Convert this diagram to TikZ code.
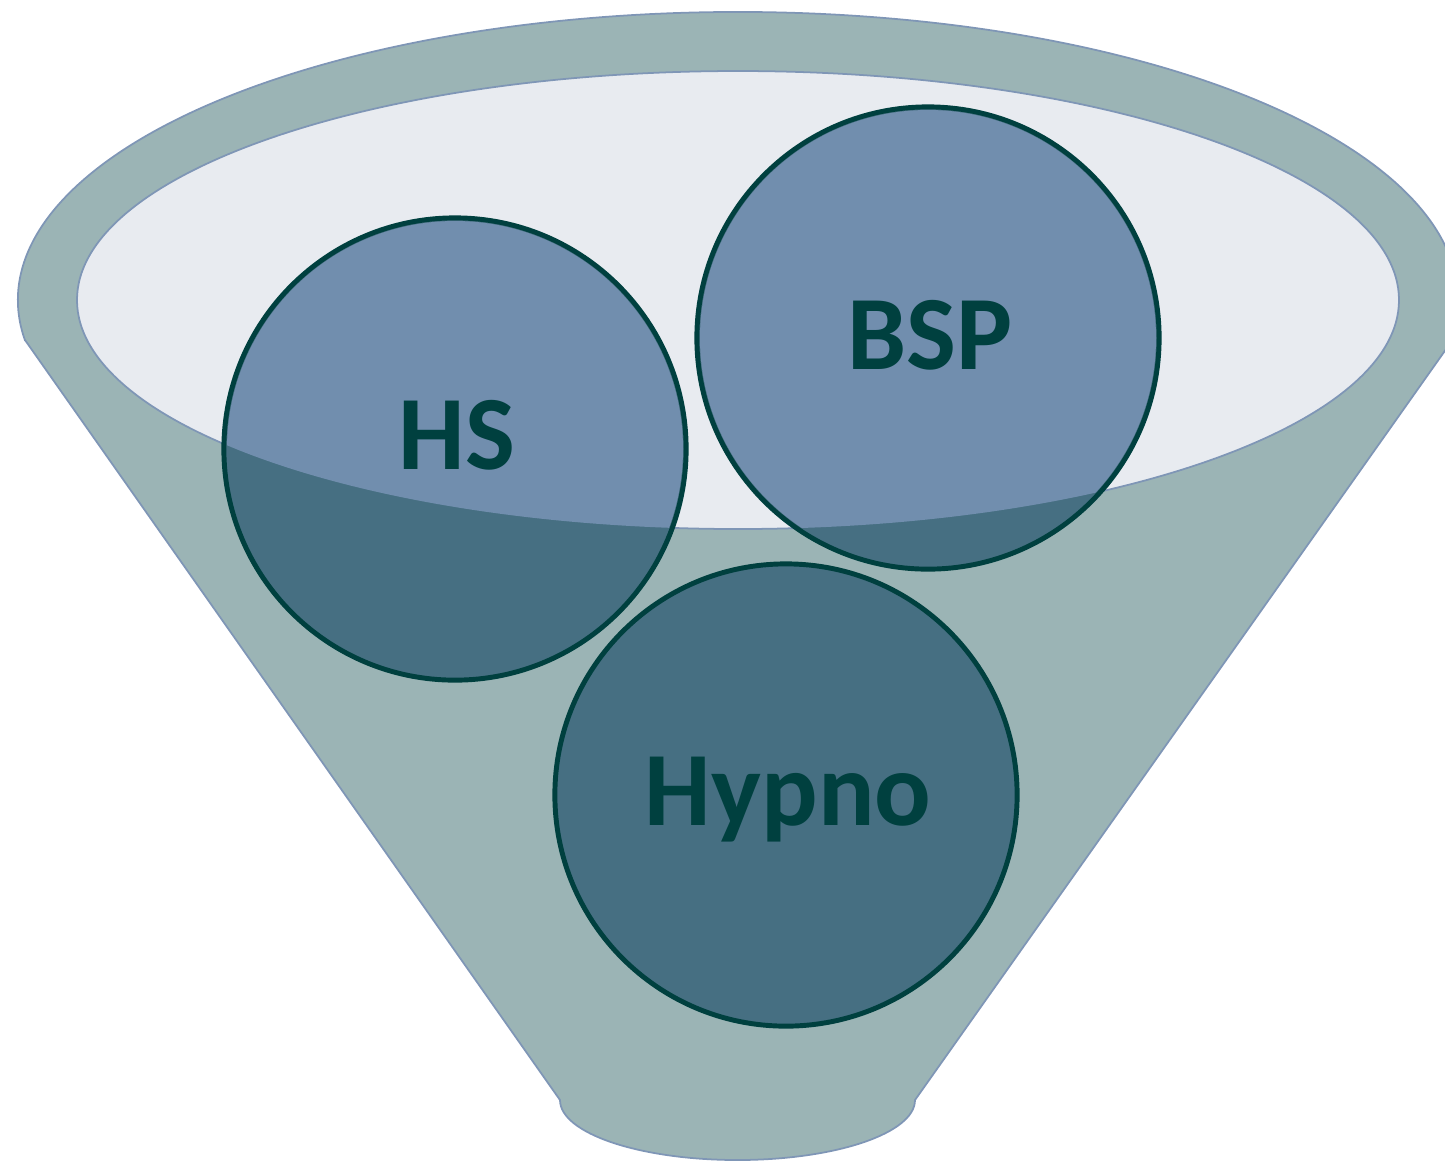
\documentclass[tikz,border=0pt]{standalone}
\usepackage{fontspec}
\setmainfont{Carlito}
\definecolor{imbuto}{HTML}{9BB4B5}
\definecolor{bordo}{HTML}{7F96B6}
\definecolor{interno}{HTML}{E8EBF0}
\definecolor{chiaro}{HTML}{718EAE}
\definecolor{cupo}{HTML}{466F82}
\definecolor{scuro}{HTML}{00403F}
\tikzset{
  palla/.style={circle, draw=scuro, line width=1.4pt, fill=cupo, minimum size=4.62cm, inner sep=0pt},
  testo/.style={anchor=base, text=scuro, font=\fontsize{30}{36}\selectfont\bfseries}
}
\begin{document}
\begin{tikzpicture}[x=0.01cm, y=-0.01cm]
\useasboundingbox (0,0) rectangle (1445,1162);

% Imbuto
\filldraw[fill=imbuto, draw=bordo, line width=0.5pt]
  (25,340) -- (560,1100) arc (180:0:177.5 and 60) -- (1449,345) arc (9:-188:720 and 288) -- cycle;
\filldraw[fill=interno, draw=bordo, line width=0.5pt] (738,300) ellipse (661 and 229);

% Cerchi
\node[palla] (hs) at (455,449) {};
\node[palla] (bsp) at (928,338) {};
\node[palla] (hypno) at (786,795) {};

% Parte dentro il bordo
\begin{scope}
  \clip (738,300) ellipse (661 and 229);
  \fill[chiaro] (hs.center) circle (228);
  \fill[chiaro] (bsp.center) circle (228);
  \fill[chiaro] (hypno.center) circle (228);
\end{scope}

% Etichette
\node[testo] (ths) at (457,469) {HS};
\node[testo] (tbsp) at (930,369) {BSP};
\node[testo] (thypno) at (788,825) {Hypno};
\end{tikzpicture}
\end{document}
